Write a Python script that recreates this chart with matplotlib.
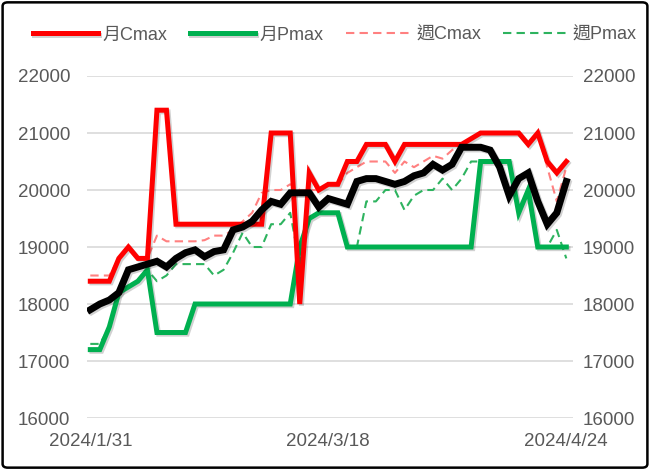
import matplotlib
matplotlib.use("Agg")
import matplotlib.pyplot as plt
import matplotlib.patheffects as pe
from matplotlib.patches import FancyBboxPatch

dates = ['2024/1/31', '2024/2/1', '2024/2/2', '2024/2/5', '2024/2/15', '2024/2/16',
         '2024/2/19', '2024/2/20', '2024/2/21', '2024/2/22', '2024/2/23', '2024/2/26',
         '2024/2/27', '2024/2/29', '2024/3/1', '2024/3/4', '2024/3/5', '2024/3/6',
         '2024/3/7', '2024/3/8', '2024/3/11', '2024/3/12', '2024/3/13', '2024/3/14',
         '2024/3/15', '2024/3/18', '2024/3/19', '2024/3/20', '2024/3/21', '2024/3/22',
         '2024/3/25', '2024/3/26', '2024/3/27', '2024/3/28', '2024/3/29', '2024/4/1',
         '2024/4/2', '2024/4/3', '2024/4/8', '2024/4/9', '2024/4/10', '2024/4/11',
         '2024/4/12', '2024/4/15', '2024/4/16', '2024/4/17', '2024/4/18', '2024/4/19',
         '2024/4/22', '2024/4/23', '2024/4/24']

month_cmax = [18400, 18400, 18400, 18800, 19000, 18800, 18800, 21400, 21400, 19400,
              19400, 19400, 19400, 19400, 19400, 19400, 19400, 19400, 19400, 21000,
              21000, 21000, 18000, 20300, 20000, 20100, 20100, 20500, 20500, 20800,
              20800, 20800, 20500, 20800, 20800, 20800, 20800, 20800, 20800, 20800,
              20900, 21000, 21000, 21000, 21000, 21000, 20800, 21000, 20500, 20300,
              20500]

month_pmax = [17200, 17200, 17600, 18200, 18300, 18400, 18600, 17500, 17500, 17500,
              17500, 18000, 18000, 18000, 18000, 18000, 18000, 18000, 18000, 18000,
              18000, 18000, 19000, 19500, 19600, 19600, 19600, 19000, 19000, 19000,
              19000, 19000, 19000, 19000, 19000, 19000, 19000, 19000, 19000, 19000,
              19000, 20500, 20500, 20500, 20500, 19600, 20000, 19000, 19000, 19000,
              19000]

week_cmax = [18500, 18500, 18500, 18800, 19000, 18800, 18800, 19200, 19100, 19100,
             19100, 19100, 19120, 19200, 19200, 19300, 19450, 19600, 19950, 20000,
             20000, 20100, 20000, 20000, 20000, 20100, 20100, 20300, 20400, 20500,
             20500, 20500, 20300, 20500, 20400, 20500, 20600, 20550, 20700, 20800,
             20900, 21000, 21000, 21000, 21000, 21000, 20800, 21000, 20400, 19800,
             20400]

week_pmax = [17300, 17300, 17600, 18200, 18300, 18400, 18600, 18400, 18500, 18700,
             18700, 18700, 18700, 18500, 18600, 18900, 19250, 19000, 19000, 19400,
             19400, 19600, 18700, 19500, 19600, 19600, 19600, 19000, 19000, 19800,
             19800, 20000, 20000, 19650, 19900, 20000, 20000, 20200, 20000, 20200,
             20500, 20500, 20500, 20500, 20500, 19600, 20000, 19000, 19000, 19300,
             18800]

price = [17900, 18000, 18070, 18200, 18600, 18650, 18700, 18750, 18650, 18800,
         18900, 18950, 18830, 18920, 18950, 19300, 19350, 19450, 19650, 19800,
         19750, 19950, 19950, 19950, 19700, 19850, 19800, 19750, 20150, 20200,
         20200, 20150, 20100, 20150, 20250, 20300, 20450, 20350, 20450, 20750,
         20750, 20750, 20700, 20400, 19900, 20200, 20300, 19800, 19400, 19600,
         20150]

yticks = [16000, 17000, 18000, 19000, 20000, 21000, 22000]
label_idx = [0, 25, 50]

txt = '#595959'
fam = ['Liberation Sans', 'Noto Sans CJK TC', 'DejaVu Sans']
plt.rcParams['font.family'] = fam

fig = plt.figure(figsize=(6.5, 4.7), dpi=100)
ax = fig.add_axes([0.1338, 0.1106, 0.7477, 0.7277])

x = list(range(len(dates)))
shadow = [pe.SimpleLineShadow(offset=(1.2, -1.2), alpha=0.18, rho=0.6), pe.Normal()]

ax.plot(x, week_cmax, color='#FF8080', lw=1.5, dashes=(4, 2.5), label='週Cmax', zorder=2)
ax.plot(x, week_pmax, color='#2EB35F', lw=1.5, dashes=(4, 2.5), label='週Pmax', zorder=2)
ax.plot(x, month_pmax, color='#00B050', lw=3.6, label='月Pmax', zorder=3,
        path_effects=shadow, solid_joinstyle='miter')
ax.plot(x, month_cmax, color='#FF0000', lw=3.6, label='月Cmax', zorder=4,
        path_effects=shadow, solid_joinstyle='miter')
ax.plot(x, price, color='black', lw=5, zorder=5, path_effects=shadow,
        solid_joinstyle='miter')

ax.set_xlim(-0.35, 50.7)
ax.set_ylim(16000, 22000)
ax.set_yticks(yticks)
ax.set_xticks(label_idx)
ax.set_xticklabels([dates[i] for i in label_idx])
ax.grid(axis='y', color='#D9D9D9', lw=1.2)
ax.set_axisbelow(True)
for s in ax.spines.values():
    s.set_visible(False)
ax.tick_params(axis='y', length=0, pad=12, labelsize=13.5, labelcolor=txt)
ax.tick_params(axis='x', length=0, pad=11, labelsize=13.5, labelcolor=txt)

ax2 = ax.twinx()
ax2.set_ylim(16000, 22000)
ax2.set_yticks(yticks)
for s in ax2.spines.values():
    s.set_visible(False)
ax2.tick_params(axis='y', length=0, pad=7, labelsize=13.5, labelcolor=txt)

h, l = ax.get_legend_handles_labels()
order = [3, 2, 0, 1]
leg = fig.legend([h[i] for i in order], [l[i] for i in order], loc='center',
                 bbox_to_anchor=(0.515, 0.925), ncol=4, frameon=False,
                 handlelength=3.6, handletextpad=0.3, columnspacing=1.2,
                 prop={'family': fam, 'size': 13})
for t in leg.get_texts():
    t.set_color(txt)

fig.patches.append(FancyBboxPatch((0.004, 0.005), 0.992, 0.99,
                                  boxstyle='round,pad=0,rounding_size=0.008',
                                  transform=fig.transFigure, fill=False,
                                  edgecolor='black', lw=1.8))

fig.savefig('out.png', dpi=100)
